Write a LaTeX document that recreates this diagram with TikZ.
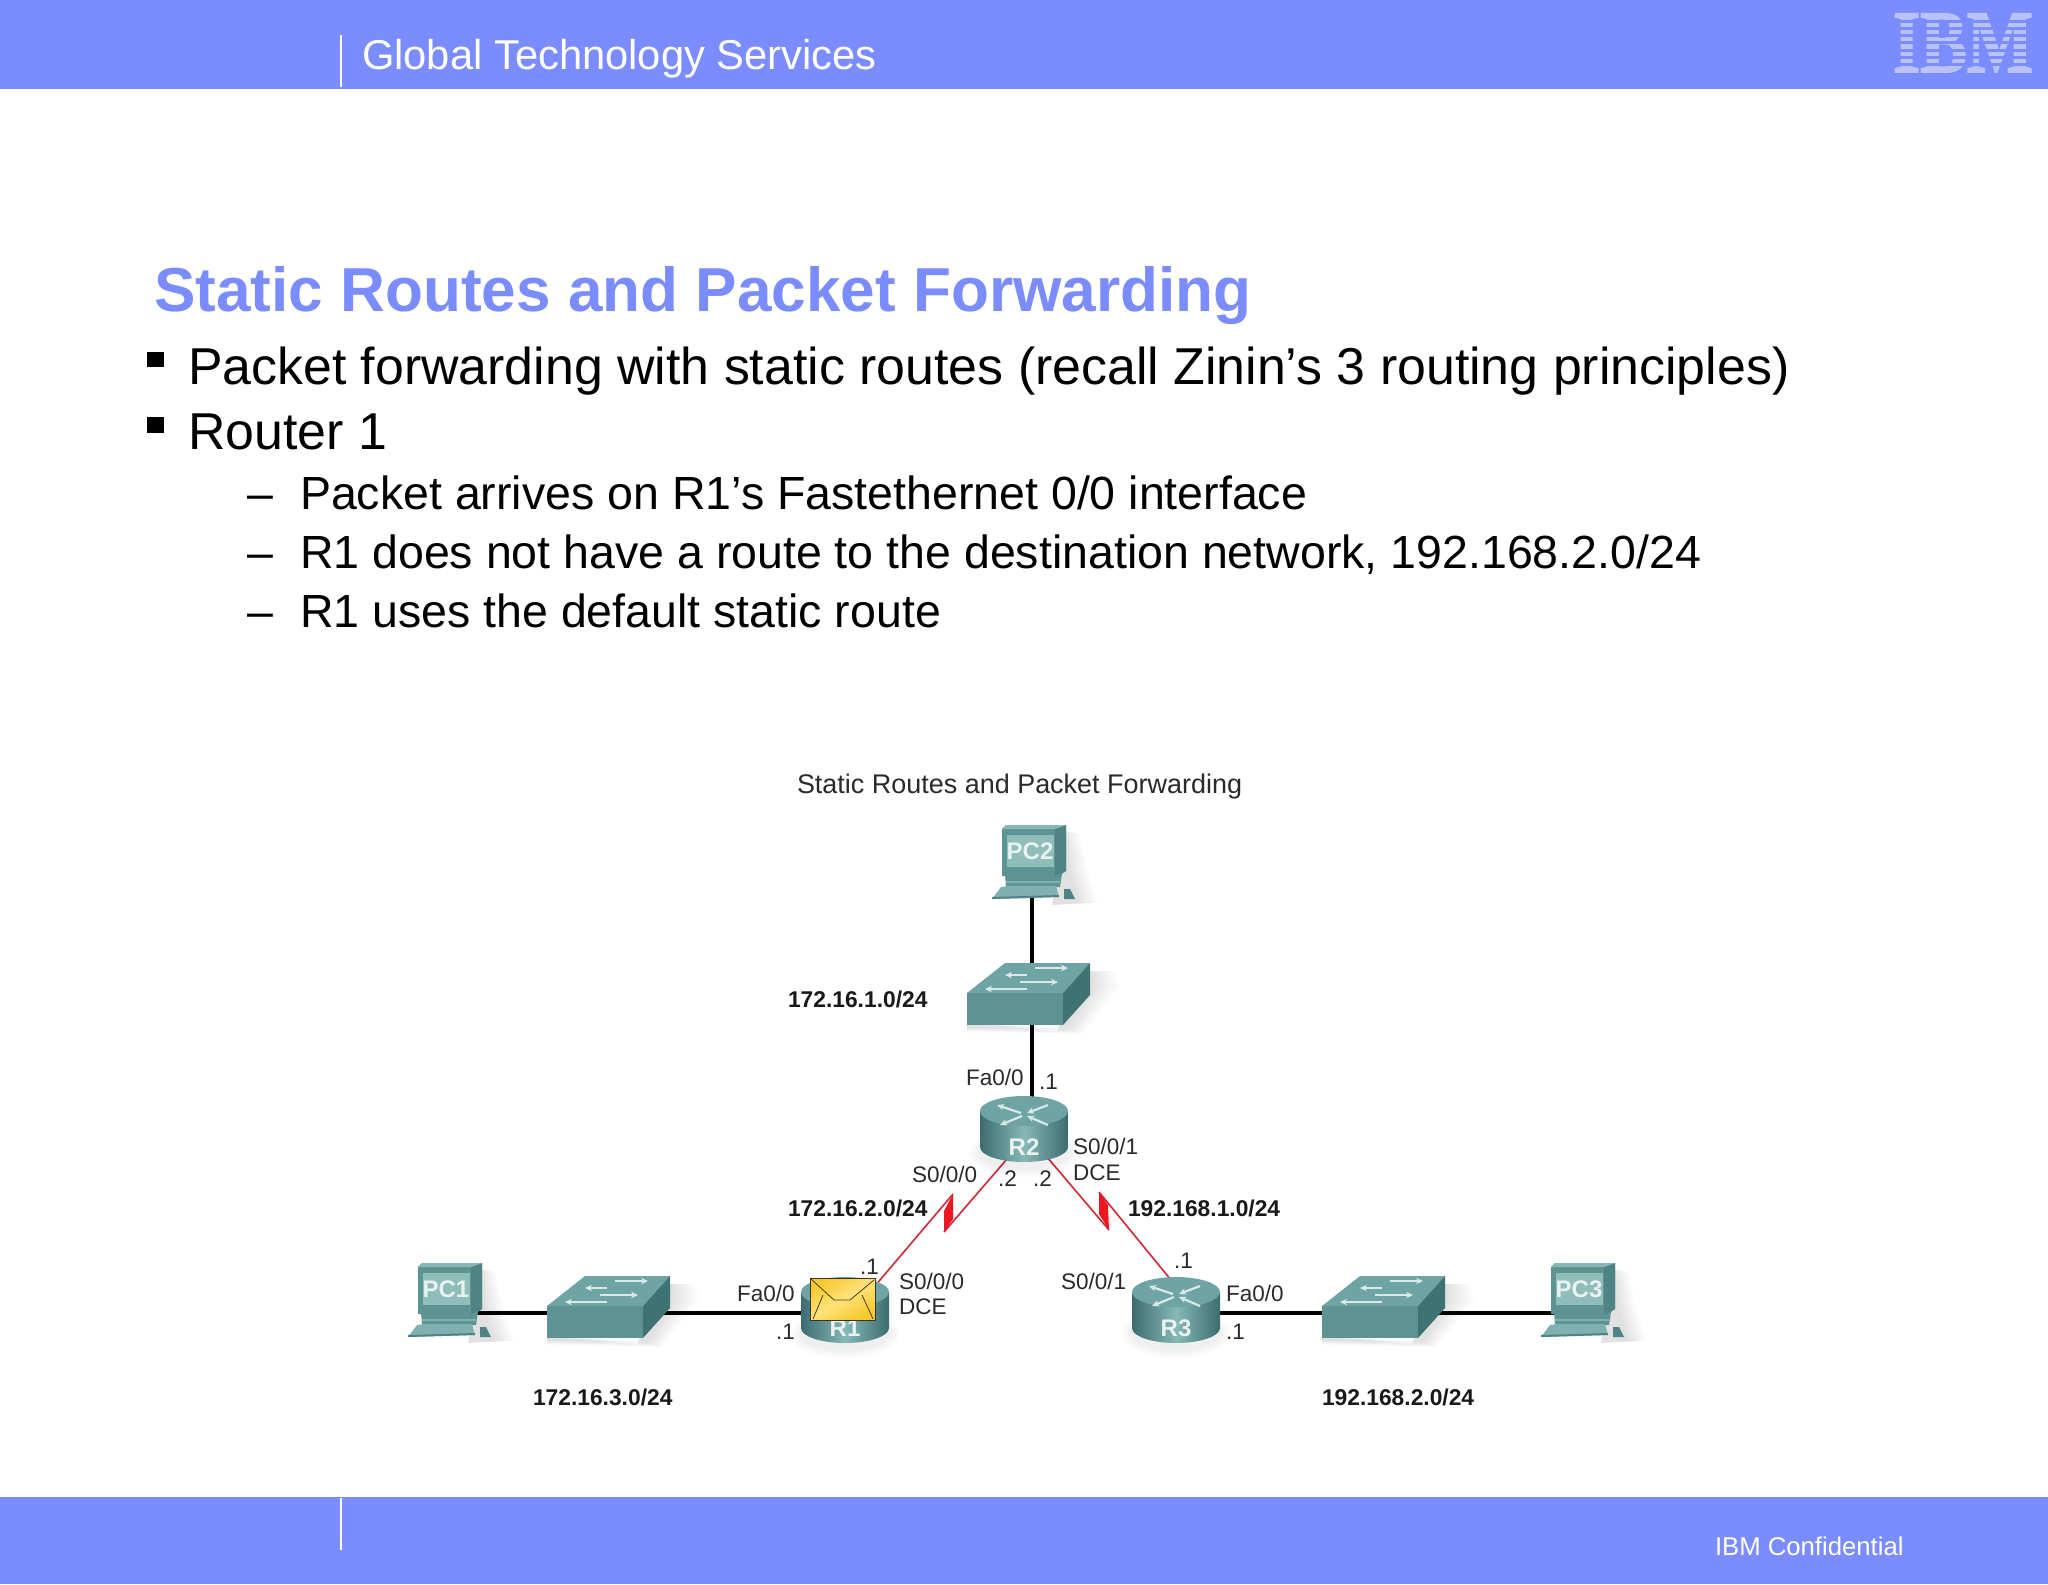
\documentclass[tikz,border=0pt]{standalone}
\usepackage{fontspec}
\setmainfont{Liberation Sans}
\newfontfamily\logofont[BoldFeatures={FakeBold=2}]{Liberation Serif}
\usetikzlibrary{arrows.meta}
\definecolor{band}{HTML}{7B8CFF}
\definecolor{logoc}{HTML}{B9C3FA}
\definecolor{tealtop}{HTML}{6FA4A4}
\definecolor{tealfront}{HTML}{5E9393}
\definecolor{tealside}{HTML}{3F7274}
\definecolor{tealdark}{HTML}{3C6C70}
\definecolor{teallight}{HTML}{86B8B6}
\definecolor{tealscreen}{HTML}{8FBDBA}
\definecolor{pcside}{HTML}{4F8385}
\definecolor{wanred}{HTML}{CC2A36}
\definecolor{boltred}{HTML}{EE1620}
\definecolor{envy}{HTML}{F7C92E}
\definecolor{envl}{HTML}{FFE27A}
\definecolor{labelc}{HTML}{2A2A2A}
\tikzset{
  x=0.5pt,y=-0.5pt,
  txt/.style={inner sep=0pt,outer sep=0pt,anchor=base west,align=left},
  hdr/.style={txt,text=white,font=\fontsize{20.86}{24}\selectfont},
  ttl/.style={txt,text=band,font=\bfseries\fontsize{31.05}{36}\selectfont},
  lvla/.style={txt,text=black,font=\fontsize{25.93}{30}\selectfont},
  lvlb/.style={txt,text=black,font=\fontsize{23.25}{27}\selectfont},
  capt/.style={txt,text=labelc,font=\fontsize{13.48}{16}\selectfont},
  ifl/.style={txt,text=labelc,font=\fontsize{11.25}{13}\selectfont},
  net/.style={txt,text=black!90,font=\bfseries\fontsize{11.4}{13}\selectfont},
  dev/.style={inner sep=0pt,outer sep=0pt,minimum size=0pt},
  devlab/.style={inner sep=0pt,outer sep=0pt,text=white!85!tealtop,font=\bfseries\fontsize{12}{14}\selectfont},
  lan/.style={draw=black,line width=1.7pt},
  wan/.style={draw=wanred,line width=0.8pt},
  bolt/.style={fill=boltred,draw=none},
  flash/.style={draw=white!75!tealtop,line width=1.1pt,-{Stealth[length=3.5pt,width=3.2pt]}},
  pics/pcdev/.style={code={
    % soft shadow
    \foreach \s in {1,...,10}{
      \fill[black,opacity=.012] (60,6) -- (62+1.5*\s,8) -- (66+2*\s,46) -- (76+2*\s,78) -- (50,80) -- cycle;
    }
    % base + keyboard + mouse
    \fill[tealfront] (3,49) -- (60,49) -- (58,62) -- (4,62) -- cycle;
    \fill[teallight!80!tealfront] (4,56) -- (58,56) -- (58,58) -- (4,58) -- cycle;
    \fill[teallight!80!tealfront] (-1,62) -- (6,61) -- (54,61) -- (57,72) -- (-10,74) -- cycle;
    \fill[pcside] (-10,72) -- (57,70) -- (57,72) -- (-10,74) -- cycle;
    \fill[pcside] (62,64) -- (68,64) -- (73,74) -- (62,74) -- cycle;
    % monitor
    \fill[tealfront] (4,0) -- (64,0) -- (64,46) -- (57,51) -- (0,51) -- (0,4) -- cycle;
    \fill[pcside] (53,4) -- (64,0) -- (64,46) -- (53,51) -- cycle;
    \fill[teallight] (4,0) -- (64,0) -- (53,4) -- (0,4) -- cycle;
    \fill[tealscreen] (5,10) rectangle (52,42);
    \node[devlab] (lab#1) at (28,26) {#1};
  }},
  pics/swdev/.style={code={
    \foreach \s in {1,...,10}{
      \fill[black,opacity=.012] (90,64+\s/2) -- (120,8) -- (123+2.5*\s,8) -- (123+3*\s,24) -- (100+1.5*\s,66+\s/2) -- (0,64+\s/2) -- (0,60) -- cycle;
    }
    \fill[tealtop] (0,30) -- (38,0) -- (123,0) -- (96,30) -- cycle;
    \fill[tealfront] (0,30) -- (96,30) -- (96,62) -- (0,62) -- cycle;
    \fill[tealside] (96,30) -- (123,0) -- (123,32) -- (96,62) -- cycle;
    \draw[flash] (60,12) -- (38,12);
    \draw[flash] (53,19) -- (91,19);
    \draw[flash] (68,5) -- (101,5);
    \draw[flash] (60,26) -- (18,26);
  }},
  pics/rtdev/.style={code={
    \foreach \s in {1,...,8}{
      \fill[black,opacity=.008] (0,42) ellipse [x radius=22pt+0.7pt*\s,y radius=7.5pt+0.6pt*\s];
    }
    \shade[left color=tealdark,right color=tealdark,middle color=teallight]
      (-44,0) -- (-44,36) arc [start angle=180,end angle=360,x radius=22pt,y radius=7.5pt] -- (44,0) -- cycle;
    \fill[tealtop] (0,0) ellipse [x radius=22pt,y radius=7.5pt];
    \draw[flash] (-3,2) -- (-27,-6);
    \draw[flash] (24,-6) -- (3,2);
    \draw[flash] (-2,5) -- (-24,14);
    \draw[flash] (24,14) -- (3,5);
    \node[devlab] (lab#1) at (0,36) {#1};
  }},
}
\begin{document}
\begin{tikzpicture}
\useasboundingbox (0,0) rectangle (2048,1584);
\fill[white] (0,0) rectangle (2048,1584);
% bands
\fill[band] (0,0) rectangle (2048,89);
\fill[band] (0,1497) rectangle (2048,1584);
\draw[white,line width=0.7pt] (341,35) -- (341,87);
\draw[white,line width=0.7pt] (341,1498) -- (341,1550);
\node[hdr] (header) at (362,69) {Global Technology Services};
\node[txt,text=white,font=\fontsize{12.85}{16}\selectfont] (conf) at (1715,1555) {IBM Confidential};
% logo
\node[inner sep=0pt,outer sep=0pt,text=logoc] (logo) at (1963,43)
  {\resizebox{70pt}{29pt}{\logofont\bfseries IBM}};
\foreach \k in {1,...,7}{
  \fill[band] (1885,14+\k*7.25-1.5) rectangle (2040,14+\k*7.25+1.5);
}
% title and bullets
\node[ttl] (title) at (154,311) {Static Routes and Packet Forwarding};
\fill[black] (147,352) rectangle (164,367);
\fill[black] (147,417) rectangle (164,433);
\node[lvla] (b1) at (188,384) {Packet forwarding with static routes (recall Zinin’s 3 routing principles)};
\node[lvla] (b2) at (188,449) {Router 1};
\node[lvlb] (d1) at (247,509) {–};
\node[lvlb] (d2) at (247,568) {–};
\node[lvlb] (d3) at (247,627) {–};
\node[lvlb] (s1) at (300,509) {Packet arrives on R1’s Fastethernet 0/0 interface};
\node[lvlb] (s2) at (300,568) {R1 does not have a route to the destination network, 192.168.2.0/24};
\node[lvlb] (s3) at (300,627) {R1 uses the default static route};
% diagram
\node[capt] (caption) at (797,793) {Static Routes and Packet Forwarding};
% anchor nodes of the devices
\node[dev] (pc1) at (450,1313) {};
\node[dev] (sw1) at (608,1313) {};
\node[dev] (r1) at (852,1313) {};
\node[dev] (r3) at (1198,1313) {};
\node[dev] (sw3) at (1384,1313) {};
\node[dev] (pc3) at (1580,1313) {};
\node[dev] (pc2) at (1032,860) {};
\node[dev] (sw2) at (1032,994) {};
\node[dev] (r2) at (1032,1130) {};
\node[dev] (r2l) at (1024,1130) {};
% zigzag corners
\coordinate (zla) at (944,1232);
\coordinate (zlb) at (953,1194);
\coordinate (zra) at (1109,1230);
\coordinate (zrb) at (1099,1192);
% connectors
\draw[lan] (pc1) -- (sw1);
\draw[lan] (sw1) -- (r1);
\draw[lan] (r3) -- (sw3);
\draw[lan] (sw3) -- (pc3);
\draw[lan] (pc2) -- (sw2);
\draw[lan] (sw2) -- (r2);
\draw[wan] (r2) -- (zla);
\draw[wan] (zlb) -- (r1);
\draw[wan] (r2l) -- (zra);
\draw[wan] (zrb) -- (r3);
\fill[bolt] (zlb) -- (953,1219) -- (zla) -- (944,1211) -- cycle;
\fill[bolt] (zrb) -- (1099,1214) -- (zra) -- (1108,1205) -- cycle;
% devices
\pic at (418,1263) {pcdev=PC1};
\pic at (1551,1263) {pcdev=PC3};
\pic at (1002,825) {pcdev=PC2};
\pic at (547,1276) {swdev};
\pic at (1322,1276) {swdev};
\pic at (967,963) {swdev};
\pic at (1024,1111) {rtdev=R2};
\pic at (845,1292) {rtdev=R1};
\pic at (1176,1292) {rtdev=R3};
% envelope on R1
\filldraw[draw=black!80,line width=0.5pt,left color=envy,right color=envy,middle color=envl,shading angle=30] (810,1278) rectangle (875,1320);
\draw[draw=black!70!envy,line width=0.4pt] (811,1279) -- (834,1300) -- (850,1300) -- (874,1280);
\draw[draw=black!70!envy,line width=0.4pt] (823,1295) -- (813,1319);
\draw[draw=black!70!envy,line width=0.4pt] (862,1295) -- (873,1319);
% labels
\node[net] (n1) at (788,1007) {172.16.1.0/24};
\node[net] (n2) at (788,1216) {172.16.2.0/24};
\node[net] (n3) at (1128,1216) {192.168.1.0/24};
\node[net] (n4) at (533,1405) {172.16.3.0/24};
\node[net] (n5) at (1322,1405) {192.168.2.0/24};
\node[ifl] (l1) at (966,1085) {Fa0/0};
\node[ifl] (l2) at (1039,1089) {.1};
\node[ifl] (l3) at (1073,1154) {S0/0/1};
\node[ifl] (l4) at (1073,1180) {DCE};
\node[ifl] (l5) at (912,1182) {S0/0/0};
\node[ifl] (l6) at (998,1186) {.2};
\node[ifl] (l7) at (1033,1186) {.2};
\node[ifl] (l8) at (737,1301) {Fa0/0};
\node[ifl] (l9) at (860,1274) {.1};
\node[ifl] (l10) at (776,1339) {.1};
\node[ifl] (l11) at (899,1289) {S0/0/0};
\node[ifl] (l12) at (899,1314) {DCE};
\node[ifl] (l13) at (1061,1289) {S0/0/1};
\node[ifl] (l14) at (1174,1268) {.1};
\node[ifl] (l15) at (1226,1301) {Fa0/0};
\node[ifl] (l16) at (1226,1339) {.1};
\end{tikzpicture}
\end{document}
